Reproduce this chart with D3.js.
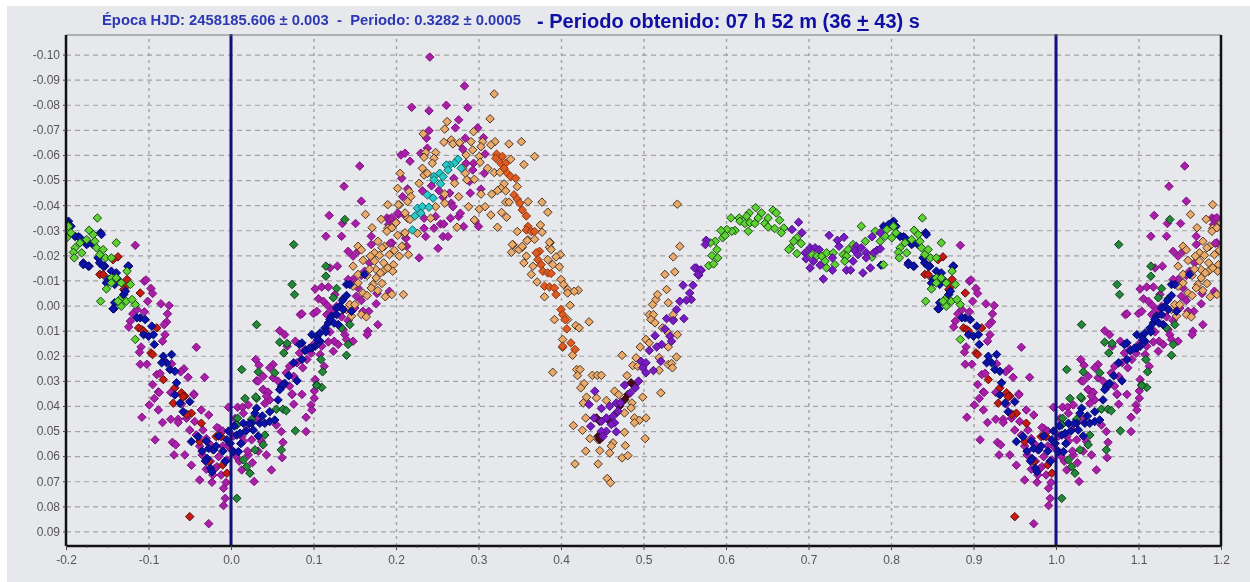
<!DOCTYPE html>
<html>
<head>
<meta charset="utf-8">
<script src="https://cdn.jsdelivr.net/npm/d3@7"></script>
<style>
  html, body { margin: 0; background: #fff; }
  svg { display: block; filter: blur(0.55px); }
</style>
</head>
<body>
<script>
// [phase, magnitude]. phases near 0/1 get drawn twice, see below
const magenta = [
  [.884,-.024],[.895,-.0097],[.897,-.0102],[.903,-.0068],[.905,-.0048],[.899,-.0017],[.915,-.0007],[.925,0],[.923,.0033],
  [.881,.0033],[.886,.0016],[.895,.0025],[.878,.0062],[.876,.0085],[.922,.0065],[.919,.0076],[.92,.0116],[.917,.0142],
  [.891,.0165],[.889,.0186],[.958,.0166],[.89,.0234],[.898,.0234],[.928,.0232],[.943,.0252],[.939,.0264],[.948,.0286],
  [.968,.0286],[.905,.0315],[.912,.0344],[.955,.0352],[.91,.0275],[.914,.027],
  [.901,.0396],[.907,.037],[.913,.0346],[.912,.0416],[.892,.0445],[.917,.0466],[.927,.0453],[.936,.0453],[.936,.0466],[.946,.0449],
  [.908,.0535],[.929,.0545],[.933,.0555],[.931,.0595],[.944,.0595],[.952,.0636],[.962,.0695],[.977,.0704],[.985,.0489],[.983,.0486],
  [.991,.0728],[.993,.0768],[.991,.0797],[.973,.0869],[.994,.0705],[.997,.0405],[.964,.0416],[.973,.0436],[.955,.0356],[.927,.0346],
  [.95,.0496],[.958,.0516],[.966,.0496],[.962,.056],[.965,.0595],[.978,.0575],[.985,.0602],[.997,.0562],[.995,.0615],[.983,.0642],
  [.97,.0652],[.978,.0675],[.988,.0675],[.001,.0575],[.94,.0392],[.948,.0435],[.956,.0462],[.97,.053],[.975,.0555],[.99,.056],
  [.008,.0405],[.014,.0405],[.021,.0396],[.015,.0429],[.031,.03],[.039,.0334],[.045,.0347],[.041,.039],[.047,.0376],
  [.074,.0354],[.086,.0354],[.076,.0393],[.101,.0369],[.097,.0396],[.098,.0416],[.091,.0445],[.091,.0502],[.061,.0502],[.063,.0545],
  [.062,.0606],[.049,.0655],[.043,.0595],[.028,.0701],[.026,.0626],[.013,.0655],[.021,.0595],[.019,.0496],[.025,.0535],[.013,.0522],
  [.037,.0542],[.055,.0476],[.101,.034],[.03,.0215],[.034,.0238],[.051,.0235],[.047,.0248],[.039,.0282],[.033,.0301],[.051,.0288],
  [.057,.0301],[.039,.0335],[.045,.0345],[.043,.0361],[.074,.0352],[.102,.0295],[.113,.0242],[.068,.0162],[.078,.0142],[.059,.01],
  [.065,.0116],[.084,.0036],[.086,.0033],[.1,.0032],[.104,.0023],[.102,-.0066],[.11,-.0074],[.118,-.0074],[.106,-.0027],[.112,-.0017],
  [.117,0],[.12,-.015],[.129,-.0157],[.126,-.0044],[.115,-.0276],[.134,-.0276],[.135,-.0327],[.119,-.0359],[.151,-.0327],[.158,-.0416],
  [.156,-.0556],[.137,-.0475],[.071,.0242],[.067,.0268],[.08,.0228],[.087,.0248],[.076,.0282],[.071,.0321],[.063,.0321],[.083,.0189],
  [.09,.0175],[.1,.0155],[.11,.0162],[.124,.0182],[.13,.0155],[.138,.0116],[.14,.0135],[.148,.0142],[.125,.0142],[.13,.0076],[.136,.0096],
  [.108,.0195],[.116,.0036],[.128,.0003],[.122,.0018],[.178,.0076],[.166,.0102],[.165,.0116],[.167,.0023],[.16,.0023],[.176,-.0007],
  [.177,-.0048],[.192,-.0057],[.154,-.007],[.148,-.0104],[.142,-.0104],[.152,-.0037],[.162,-.0137],[.148,-.0197],[.142,-.0216],[.154,-.0216],
  [.17,-.0243],[.17,-.0276],[.195,-.025],[.189,-.0349],[.191,-.0323],[.203,-.0363],[.212,-.0269],[.213,-.0236],[.228,-.019],
  [.241,-.099],[.283,-.0875],[.219,-.079],[.24,-.0776],[.261,-.0798],[.287,-.0789],[.276,-.074],[.272,-.0708],[.24,-.0697],[.237,-.0667],
  [.299,-.0708],[.306,-.0669],[.206,-.06],[.211,-.0607],[.217,-.0575],[.23,-.0607],[.238,-.0627],[.284,-.0667],[.277,-.0647],[.281,-.0623],
  [.308,-.0604],[.307,-.0527],[.285,-.0567],[.294,-.0567],[.293,-.054],[.289,-.0494],[.303,-.0464],[.29,-.0448],[.27,-.0507],[.232,-.0457],
  [.243,-.0477],[.252,-.0458],[.265,-.0448],[.257,-.0432],[.267,-.0408],[.269,-.0394],[.214,-.0465],[.207,-.0507],[.202,-.0368],[.208,-.0434],
  [.212,-.0355],[.192,-.0345],[.195,-.035],[.2,-.0331],[.248,-.0355],[.234,-.0348],[.266,-.0348],[.276,-.0355],[.278,-.0368],[.254,-.0325],
  [.258,-.0325],[.246,-.0308],[.234,-.0308],[.282,-.0315],[.296,-.0337],[.3,-.0315],[.257,-.0275],[.263,-.0275],[.236,-.0275],[.212,-.0268],
  [.193,-.0248],[.251,-.0228],
  [.975,.062],[.98,.065],[.99,.05],[.003,.052],[.006,.06],[.01,.062],[.015,.054],[.02,.058],[.03,.045],[.033,.058],[.005,.045],
  [.092,.0215],[.097,.019],[.118,.0145],[.12,.0105],[.134,.0045],[.142,.006],[.15,.001],[.158,-.002],[.158,-.012],[.168,-.017]
]
const tan = [
  [.319,-.0843],[.314,-.0744],[.262,-.0733],[.259,-.0703],[.233,-.0684],[.267,-.066],[.258,-.0651],[.269,-.0644],[.277,-.0649],[.291,-.0653],
  [.294,-.0693],[.32,-.0653],[.315,-.064],[.337,-.0644],[.352,-.0653],[.305,-.0653],[.303,-.0633],[.293,-.062],[.285,-.06],[.368,-.0594],
  [.355,-.0562],[.339,-.0583],[.248,-.061],[.236,-.061],[.234,-.0591],[.246,-.0587],[.244,-.0567],[.301,-.0594],[.302,-.0571],[.311,-.0547],
  [.319,-.053],[.326,-.0531],[.232,-.0547],[.234,-.052],[.238,-.0527],[.205,-.0527],[.228,-.0487],[.281,-.0547],[.284,-.0527],[.286,-.0501],
  [.295,-.0503],[.271,-.0487],[.347,-.0474],[.331,-.0485],[.327,-.0467],[.323,-.0458],[.333,-.0457],[.303,-.0444],[.316,-.0444],[.276,-.0434],
  [.259,-.0444],[.202,-.0467],[.216,-.0454],[.218,-.0434],[.214,-.0414],[.204,-.0401],[.288,-.0394],[.259,-.0408],[.301,-.0384],[.308,-.0394],
  [.333,-.0412],[.337,-.0412],[.36,-.0414],[.377,-.0412],[.384,-.0372],[.315,-.0361],[.328,-.0371],[.334,-.0352],[.295,-.0341],[.274,-.0312],
  [.323,-.0312],[.347,-.0295],[.375,-.0321],[.377,-.0292],[.214,-.0348],[.19,-.0308],[.182,-.0344],[.21,-.0286],[.226,-.0288],[.36,-.0262],
  [.368,-.0264],[.342,-.0242],[.353,-.0232],[.387,-.0251],[.386,-.0232],[.208,-.0235],[.248,-.0394],[.242,-.0348],
  [.163,-.0363],[.171,-.031],[.154,-.0236],[.158,-.0222],[.178,-.0256],[.174,-.021],[.186,-.0236],[.192,-.0203],[.204,-.0197],[.215,-.0203],
  [.169,-.0197],[.174,-.0177],[.185,-.017],[.197,-.0163],[.148,-.0157],[.154,-.0124],[.176,-.0143],[.185,-.0137],[.196,-.0137],[.176,-.011],
  [.183,-.0088],[.172,-.0084],[.154,-.009],[.148,-.0077],[.16,-.005],[.187,-.0035],[.195,-.0044],[.209,-.0044],[.144,-.0004],[.15,-.0004],
  [.14,.0016],[.146,.0042],[.158,.0036],[.164,.0045],[.19,-.0402],[.203,-.0402],[.211,-.0369],[.217,-.0343],[.2,-.033],[.189,-.0296],
  [.211,-.029],[.207,-.0236],
  [.341,-.0243],[.349,-.0223],[.34,-.0212],[.353,-.0236],[.359,-.0259],[.386,-.0252],[.388,-.0223],[.399,-.0203],[.394,-.0194],[.355,-.017],
  [.358,-.0197],[.366,-.0157],[.364,-.0124],[.371,-.0094],[.398,-.0154],[.384,-.0183],[.39,-.0163],[.4,-.0104],[.403,-.0084],[.408,-.0064],
  [.408,-.005],[.421,-.0061],[.416,-.0057],[.38,-.0035],[.411,-.0001],[.392,.0056],[.434,.0065],[.408,.0056],[.418,.008],[.422,.0089],
  [.402,.0135],[.414,.0198],[.402,.0166],[.474,.0198],[.39,.0266],[.419,.0255],[.423,.0255],[.42,.0279],[.438,.0278],[.444,.0278],[.449,.0278],
  [.48,.0279],[.428,.0311],[.424,.0328],[.431,.0365],[.427,.0388],[.443,.0368],[.455,.0378],[.465,.0341],[.47,.0355],[.499,.0365],[.486,.0388],
  [.485,.0408],[.477,.0428],[.43,.0448],[.415,.0478],[.426,.0497],[.489,.0448],[.495,.0457],[.503,.0448],[.489,.0467],[.477,.0505],[.435,.053],
  [.445,.0534],[.463,.0547],[.461,.056],[.478,.0558],[.502,.053],[.447,.0578],[.459,.0587],[.43,.058],[.474,.0607],[.481,.0598],[.417,.0631],
  [.445,.0631],[.456,.0689],[.46,.0706],[.521,.0348],[.487,.0239],[.491,.0208],[.493,.0242],[.519,.0208],[.519,.0258],[.53,.0235],[.534,.0231],
  [.535,.0248],[.54,.0205],[.53,.0165],[.541,.0116],[.496,.0165],[.503,.0135],[.507,.0149],[.523,.0089],[.53,.0109],[.536,.0056],[.536,.0036],
  [.511,-.0004],[.515,-.0024],[.507,.0036],[.512,.0036],[.509,.0056],[.514,.0069],[.53,-.0011],[.517,-.0044],[.528,-.0064],[.526,-.0124],
  [.538,-.0134],[.536,-.0194],[.544,-.0236],[.541,-.0404],
  [.165,-.012],[.18,-.02],[.19,-.015],[.16,-.018],[.165,-.004],[.178,-.006],[.183,-.023],[.198,-.022],[.202,-.028],[.195,-.031],[.168,-.0145],[.181,-.013],[.17,-.007]
]
const orange = [
  [.322,-.0603],[.321,-.0587],[.329,-.0594],[.327,-.0567],[.333,-.0567],[.331,-.0547],[.335,-.0527],[.339,-.0514],[.345,-.0507],[.343,-.0441],
  [.347,-.0424],[.35,-.0408],[.353,-.0381],[.358,-.0357],[.36,-.0315],[.358,-.0301],[.364,-.0295],[.368,-.0295],
  [.374,-.0216],[.37,-.021],[.372,-.0183],[.376,-.0163],[.378,-.0137],[.384,-.013],[.388,-.0128],[.38,-.0077],[.386,-.0074],[.392,-.007],
  [.394,-.0044],[.4,.0016],[.402,.0036],[.407,.0093],[.412,.0149],[.417,.0175],[.402,.0162],[.405,.0056]
]
const cyan = [
  [.275,-.0583],[.271,-.0567],[.265,-.056],[.261,-.056],[.263,-.054],[.279,-.0547],[.253,-.0527],[.246,-.0514],[.257,-.0514],[.246,-.0501],
  [.254,-.0485],[.238,-.0441],[.245,-.0428],[.226,-.0388],[.232,-.0394],[.24,-.0392],[.223,-.0357],[.23,-.0368],[.22,-.0301]
]
const violet = [
  [.548,-.0081],[.56,-.0081],[.564,-.015],[.57,-.0141],[.567,-.0121],[.556,-.005],[.558,-.0024],[.552,-.0021],[.544,-.0017],[.54,.0016],
  [.528,.0052],[.536,.006],[.549,.0052],[.526,.0093],[.532,.0122],[.534,.0142],[.514,.012],[.522,.0155],[.516,.0165],[.507,.0179],[.521,.0222],
  [.497,.0222],[.503,.0228],[.499,.0248],[.512,.0259],[.503,.0268],[.477,.0317],[.494,.0301],[.49,.0328],[.484,.0348],[.441,.0341],[.434,.0394],
  [.449,.041],[.459,.0401],[.467,.0388],[.472,.0388],[.44,.0448],[.436,.0481],[.449,.0461],[.455,.0448],[.463,.0441],[.465,.0467],[.461,.0474],
  [.455,.0501],[.449,.0501],[.467,.0503],[.451,.0521],[.469,.0421],
  [.576,-.026],[.575,-.0243],[.562,-.015],[.569,-.0141],[.566,-.0124],[.68,-.0303],[.688,-.0332],[.692,-.029],[.725,-.028],[.743,-.0272],
  [.735,-.026],[.737,-.0236],[.696,-.021],[.702,-.023],[.708,-.023],[.713,-.0223],[.697,-.0186],[.706,-.0177],[.702,-.015],[.714,-.0161],
  [.729,-.019],[.729,-.0141],[.718,-.0106],[.746,-.0141],[.751,-.0141],[.766,-.013],[.775,-.015],[.758,-.0236],[.756,-.022],[.764,-.023],
  [.76,-.0203],[.77,-.021],[.77,-.019],[.779,-.021],[.783,-.022],[.787,-.0226],[.777,-.0274],[.787,-.029],[.754,-.0177]
]
const brown = [
  [.485,.0308],[.489,.0321],[.481,.0355],[.477,.0375],[.471,.0401],[.467,.0428],[.459,.0461],[.443,.0448],[.447,.0461],[.445,.0521],[.447,.0534],[.473,.0388]
]
const lime = [
  [.636,-.039],[.628,-.0369],[.625,-.0356],[.616,-.0349],[.606,-.0349],[.617,-.0336],[.623,-.0327],[.629,-.033],[.635,-.0327],[.643,-.0369],
  [.639,-.0349],[.657,-.038],[.661,-.0369],[.651,-.0349],[.665,-.034],[.647,-.0327],[.651,-.0313],[.659,-.0307],[.627,-.0296],[.611,-.0299],
  [.607,-.0296],[.601,-.0303],[.594,-.0299],[.596,-.027],[.599,-.0279],[.587,-.0256],[.581,-.025],[.589,-.0223],[.583,-.0199],[.59,-.019],
  [.579,-.0159],[.585,-.0166],[.67,-.0309],[.667,-.029],[.686,-.027],[.682,-.0256],[.691,-.0247],[.678,-.023],[.676,-.0223],[.686,-.0207],
  [.704,-.0203],[.71,-.0197],[.716,-.0197],[.722,-.021],[.73,-.021],[.72,-.0177],[.722,-.015],[.732,-.0163],[.742,-.0203],[.748,-.0223],
  [.754,-.0243],[.746,-.0197],[.744,-.0177],[.764,-.0316],[.769,-.0256],[.777,-.0193],[.791,-.0163],[.781,-.0296],[.787,-.0256],[.795,-.0303],
  [.803,-.0316],[.806,-.029],[.793,-.0276],[.801,-.027],[.838,-.0349],[.828,-.03],[.833,-.0283],[.825,-.0263],[.817,-.025],[.811,-.023],
  [.809,-.0212],[.81,-.019],[.819,-.021],[.835,-.0256],[.837,-.023],[.845,-.0223],[.841,-.0203],[.848,-.019],[.861,-.025],[.855,-.019],
  [.849,-.0066],[.855,-.011],[.861,-.011],[.855,-.009],[.867,-.009],[.842,-.0017],[.867,-.0011],[.873,-.0017],[.867,.0003],[.884,-.0004],
  [.865,-.0024],[.874,-.0137],[.878,-.0084],[.863,-.0017],[.88,-.0024],[.884,.0135]
]
const blue = [
  [.803,-.0336],[.806,-.0316],[.815,-.0274],[.811,-.0276],[.823,-.0256],[.825,-.0243],[.833,-.0243],[.842,-.029],[.821,-.017],[.828,-.0157],
  [.839,-.019],[.841,-.017],[.847,-.0157],[.855,-.0137],[.861,-.013],[.876,-.0157],[.863,-.0104],[.851,-.0104],[.849,-.009],[.859,-.0084],
  [.87,-.0044],[.859,-.0011],[.858,.0013],[.872,-.0057],[.89,.0049],[.896,.0056],[.886,.0049],[.904,.0082],[.894,.0116],[.9,.0122],[.906,.0116],
  [.907,.0155],[.918,.0202],[.928,.0195],[.922,.0228],[.916,.0228],[.926,.0255],[.932,.0262],[.934,.0308],[.932,.0356],[.95,.0383],[.938,.0389],
  [.942,.0423],[.952,.0542],[.96,.0522],[.973,.0569],[.979,.0575],[.971,.0609],[.969,.0619],[.975,.0648],[.977,.0662],[.995,.0535],[.999,.0549],
  [.007,.0516],[.011,.0509],[.015,.0469],[.025,.0469],[.031,.0409],[.029,.0429],[.027,.0496],[.035,.0469],[.041,.0469],[.047,.0462],[.047,.0423],
  [.053,.0456],[.057,.0376],[.061,.0323],[.065,.031],[.08,.03],[.003,.0582],[.009,.0582],[.059,.0335],[.063,.0315],[.076,.0228],[.086,.0215],
  [.086,.0149],[.083,.0155],[.098,.0116],[.104,.0122],[.108,.0109],[.114,.0089],[.118,.0069],[.122,.0042],[.128,.0036],[.132,.0003],[.136,.0016],
  [.13,.0076],[.14,-.0084],[.144,-.0084],[.162,-.0124],[.146,.0023],[.102,.0162],[.098,.0169],[.108,.0142],
  [.791,-.0316],[.801,-.033],[.797,-.0323],[.811,-.0276],[.817,-.027],[.827,-.025],[.833,-.0243],[.843,-.0283],[.821,-.0163],[.827,-.0157],
  [.839,-.019],[.841,-.017],[.845,-.0157],[.788,-.0161],[.875,-.0157],[.857,.0013],
  [.965,.058],[.97,.054],[.982,.056],[.985,.052],[.99,.058],[.993,.062],[.997,.05],[.004,.048],[.012,.055],[.018,.05],[.022,.047],[.033,.052],[.038,.044],
  [.07,.028],[.09,.018],[.095,.017],[.105,.0135],[.115,.0105],[.12,.0055],[.125,.007],[.135,-.002],[.14,-.004],[.128,.001]
]
const red = [
  [.863,-.0194],[.857,-.0183],[.841,-.0124],[.845,-.0124],[.874,-.0104],[.872,-.0074],[.87,-.0064],[.89,-.005],[.888,.0089],[.892,.0096],[.894,.0102],
  [.91,.0089],[.903,.0189],[.905,.0195],[.918,.0295],[.932,.0328],[.94,.0348],[.944,.0361],[.942,.0363],[.93,.0389],[.952,.0429],[.964,.0469],
  [.946,.0433],[.962,.0542],[.982,.0522],[.988,.0522],[.973,.0622],[.99,.0635],[.995,.0668],[.95,.0841]
]
const darkGreen = [
  [.007,.0768],[.017,.037],[.031,.037],[.008,.0449],[.025,.0453],[.007,.0476],[.039,.0555],[.041,.0516],[.029,.0575],[.015,.0615],[.019,.0642],
  [.023,.0668],[.061,.0575],[.078,.0499],[.055,.0413],[.063,.0413],[.067,.0419],[.11,.0326],[.104,.0316],[.013,.0255],[.033,.0264],[.053,.0268],
  [.059,.0146],[.064,.0189],[.068,.0151],[.031,.0076],[.076,-.0243],[.074,-.0084],[.077,-.0044],[.115,-.0117],[.115,-.0157],[.138,-.0343],
  [.128,-.0068],[.124,-.0031],[.136,-.0027],[.109,.0215],[.111,.0264],[.14,.0198],[.142,.0155],[.144,.0076],[.134,.0089],[.104,.0319],[.03,.0364]
]

const xTicks = [-0.2, -0.1, 0, 0.1, 0.2, 0.3, 0.4, 0.5, 0.6, 0.7, 0.8, 0.9, 1, 1.1, 1.2]
const yTicks = [-0.10, -0.09, -0.08, -0.07, -0.06, -0.05, -0.04, -0.03, -0.02, -0.01, 0, 0.01, 0.02, 0.03, 0.04, 0.05, 0.06, 0.07, 0.08, 0.09]
const epochLines = [0, 1]

const plotLeft = 66, plotRight = 1221, plotTop = 35, plotBottom = 546

const x = d3.scaleLinear().domain([-0.2, 1.2]).range([plotLeft, plotRight])
const y = d3.scaleLinear().domain([-0.1078, 0.0958]).range([plotTop, plotBottom])

const svg = d3.select("body").append("svg").attr("width", 1250).attr("height", 582)

svg.append("rect").attr("x", 7).attr("y", 6).attr("width", 1243).attr("height", 576).attr("fill", "#e6e8ec")

svg.append("defs").append("clipPath").attr("id", "plot")
  .append("rect").attr("x", plotLeft).attr("y", plotTop).attr("width", plotRight - plotLeft).attr("height", plotBottom - plotTop)

// grid
const gridX = svg.append("g").attr("transform", "translate(0," + plotBottom + ")")
  .call(d3.axisBottom(x).tickValues(xTicks.slice(1, -1)).tickSize(-(plotBottom - plotTop)).tickFormat(""))
gridX.select(".domain").remove()
gridX.selectAll("line").attr("stroke", "#a2a2a2").attr("stroke-width", 1.4).attr("stroke-dasharray", "3,4")

const gridY = svg.append("g").attr("transform", "translate(" + plotLeft + ",0)")
  .call(d3.axisLeft(y).tickValues(yTicks).tickSize(-(plotRight - plotLeft)).tickFormat(""))
gridY.select(".domain").remove()
gridY.selectAll("line").attr("stroke", "#a2a2a2").attr("stroke-width", 1.2).attr("stroke-dasharray", "5,4")

// everything that falls in 0-0.2 or 0.8-1 shows up on both sides
const unfold = (pts) => {
  const out = []
  pts.forEach((d) => {
    [d[0] - 1, d[0], d[0] + 1].forEach((p) => {
      if (p >= -0.2 && p <= 1.2) out.push([p, d[1]])
    })
  })
  return out
}

const series = [
  { pts: magenta, fill: "#a91fa6", stroke: "#7c1284" },
  { pts: tan, fill: "#e9aa6c", stroke: "#4e3520" },
  { pts: orange, fill: "#de5c22", stroke: "#8c3210" },
  { pts: darkGreen, fill: "#23883a", stroke: "#0c3a16" },
  { pts: red, fill: "#c71a12", stroke: "#5e1008" },
  { pts: blue, fill: "#0b12aa", stroke: "#060a66" },
  { pts: lime, fill: "#5ed232", stroke: "#184a10" },
  { pts: cyan, fill: "#2ac8c8", stroke: "#0f6464" },
  { pts: brown, fill: "#4c0a18", stroke: "#300610" },
  { pts: violet, fill: "#7a1ac2", stroke: "#4c1084" }
]

const diamond = d3.symbol().type(d3.symbolDiamond2).size(46)
const marks = svg.append("g").attr("clip-path", "url(#plot)")

series.forEach((s) => {
  marks.append("g").selectAll("path")
    .data(unfold(s.pts))
    .enter()
    .append("path")
    .attr("d", diamond)
    .attr("transform", (d) => "translate(" + x(d[0]) + "," + y(d[1]) + ")")
    .attr("fill", s.fill)
    .attr("stroke", s.stroke)
    .attr("stroke-width", 1)
})

svg.selectAll(".epoch")
  .data(epochLines)
  .enter()
  .append("line")
  .attr("class", "epoch")
  .attr("x1", (d) => x(d))
  .attr("x2", (d) => x(d))
  .attr("y1", plotTop - 1)
  .attr("y2", plotBottom)
  .attr("stroke", "#10107e")
  .attr("stroke-width", 3)

// frame
svg.append("line").attr("x1", plotLeft).attr("x2", plotRight).attr("y1", plotTop).attr("y2", plotTop).attr("stroke", "#777").attr("stroke-width", 1.2)
svg.append("line").attr("x1", plotLeft).attr("x2", plotLeft).attr("y1", plotTop).attr("y2", plotBottom).attr("stroke", "#111").attr("stroke-width", 2.5)
svg.append("line").attr("x1", plotRight).attr("x2", plotRight).attr("y1", plotTop).attr("y2", plotBottom).attr("stroke", "#111").attr("stroke-width", 2.5)
svg.append("line").attr("x1", plotLeft).attr("x2", plotRight).attr("y1", plotBottom).attr("y2", plotBottom).attr("stroke", "#111").attr("stroke-width", 2.5)

// axes
const xAxis = svg.append("g").attr("transform", "translate(0," + plotBottom + ")")
  .call(d3.axisBottom(x).tickValues(xTicks).tickSize(4).tickPadding(5).tickFormat((d) => d.toFixed(1)))
const yAxis = svg.append("g").attr("transform", "translate(" + plotLeft + ",0)")
  .call(d3.axisLeft(y).tickValues(yTicks).tickSize(3).tickPadding(3).tickFormat((d) => d.toFixed(2)))
;[xAxis, yAxis].forEach((a) => {
  a.select(".domain").remove()
  a.selectAll("text").attr("fill", "#555").style("font", "12px 'Liberation Sans', Arial, sans-serif")
  a.selectAll("line").attr("stroke", "#444")
})

// little ticks between the labelled ones
const minor = svg.append("g").attr("transform", "translate(0," + plotBottom + ")")
  .call(d3.axisBottom(x).tickValues(d3.range(-0.2, 1.2, 0.025)).tickSize(2).tickFormat(""))
minor.select(".domain").remove()
minor.selectAll("line").attr("stroke", "#555")

// titles
svg.append("text")
  .attr("x", 102).attr("y", 25)
  .attr("textLength", 419).attr("lengthAdjust", "spacingAndGlyphs")
  .style("white-space", "pre")
  .style("font", "bold 15px 'Liberation Sans', Arial, sans-serif")
  .attr("fill", "#2d38b4")
  .text("Época HJD: 2458185.606 ± 0.003  -  Periodo: 0.3282 ± 0.0005")

const title2 = svg.append("text")
  .attr("x", 537).attr("y", 28)
  .style("font", "bold 20px 'Liberation Sans', Arial, sans-serif")
  .attr("fill", "#0f0fa4")
title2.append("tspan").text("- Periodo obtenido: 07 h 52 m (36 ")
title2.append("tspan").style("text-decoration", "underline").text("+")
title2.append("tspan").text(" 43) s")
</script>
</body>
</html>
